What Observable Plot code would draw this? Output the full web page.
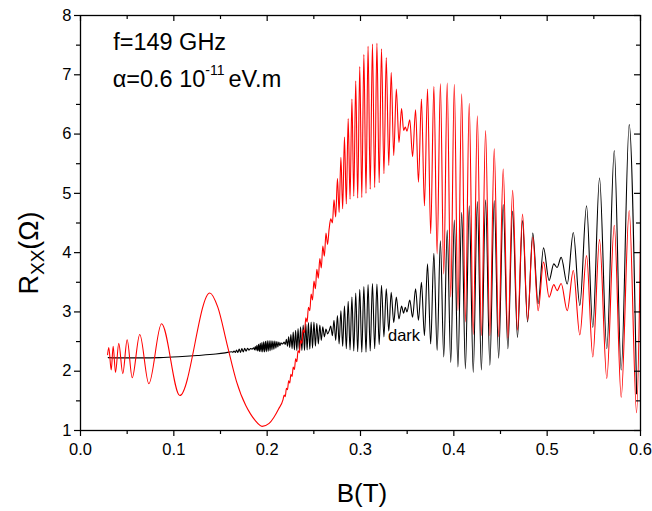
<!DOCTYPE html>
<html><head><meta charset="utf-8">
<script src="https://cdn.jsdelivr.net/npm/d3@7"></script>
<script src="https://cdn.jsdelivr.net/npm/@observablehq/plot@0.6"></script>
<style>body{margin:0;background:#fff}svg{display:block}</style>
</head><body><div id="chart"></div>
<script>
// ---- tick values ----
const xMajor = [0, 0.1, 0.2, 0.3, 0.4, 0.5, 0.6];
const xMinor = [0.05, 0.15, 0.25, 0.35, 0.45, 0.55];
const yMajor = [1, 2, 3, 4, 5, 6, 7, 8];
const yMinor = [1.5, 2.5, 3.5, 4.5, 5.5, 6.5, 7.5];

// ---- dark (black) curve, low field part: B (T), Rxx (Ohm) ----
const darkLowB = [0.0297,0.045,0.065,0.085,0.105,0.125,0.145,0.155,
 0.1619,0.1632,0.1645,0.1659,0.1672,0.1686,0.1700,0.1715,0.1729,0.1744,0.1759,0.1774,0.1790,0.1806,0.1822,0.1838,
 0.1856,0.1864,0.1873,0.1881,0.1890,0.1899,0.1908,0.1917,0.1926,0.1935,0.1944,0.1953,0.1963,0.1972,0.1982,0.1991,
 0.2001,0.2011,0.2021,0.2031,0.2041,0.2051,0.2061,0.2072,0.2082,0.2093,0.2104,0.2115,0.2125,0.2137,0.2148,0.2159,0.2170];
const darkLowR = [2.23,2.225,2.225,2.23,2.245,2.265,2.29,2.31,
 2.328,2.319,2.342,2.317,2.358,2.316,2.372,2.318,2.381,2.326,2.386,2.338,2.386,2.355,2.384,2.373,
 2.395,2.36,2.416,2.35,2.436,2.341,2.454,2.333,2.47,2.328,2.484,2.326,2.496,2.326,2.505,2.329,
 2.511,2.336,2.514,2.345,2.515,2.36,2.51,2.37,2.51,2.39,2.50,2.41,2.49,2.43,2.48,2.46,2.468];

// ---- illuminated (red) curve, low field part ----
const redLowB = [0.0290,0.0303,0.0329,0.0350,0.0375,0.0410,0.0453,0.0500,0.0554,0.0635,0.0732,0.0868,0.1064,
 0.1385,0.1471,0.1571,0.1671,0.1771,0.1821,0.1871,0.1946,0.2021,0.2071,0.2121,0.2170];
const redLowR = [2.28,2.40,2.02,2.42,1.98,2.47,1.96,2.53,1.89,2.62,1.79,2.80,1.59,
 3.32,3.08,2.45,1.83,1.42,1.28,1.17,1.07,1.12,1.22,1.36,1.52];

// ---- oscillating part: extrema positions shared by both curves ----
const oscB = [0.2182,0.2194,0.2206,0.2218,0.2230,0.2242,0.2254,0.2267,0.2279,0.2292,
 0.2305,0.2318,0.2331,0.2345,0.2358,0.2372,0.2386,0.2400,0.2414,0.2428,
 0.2442,0.2457,0.2471,0.2486,0.2501,0.2517,0.2532,0.2548,0.2564,0.2580,
 0.2596,0.2613,0.2630,0.2647,0.2664,0.2681,0.2699,0.2716,0.2734,0.2753,
 0.2771,0.2790,0.2809,0.2828,0.2848,0.2868,0.2888,0.2908,0.2928,0.2949,
 0.2970,0.2992,0.3014,0.3036,0.3059,0.3081,0.3104,0.3128,0.3152,0.3176,
 0.3200,0.3225,0.3251,0.3276,0.3303,0.3329,0.3356,0.3384,0.3412,0.3440,
 0.3462,0.3480,0.3498,0.3528,0.3558,0.3590,0.3621,0.3653,0.3685,0.3718,
 0.3752,0.3786,0.3821,0.3856,0.3892,0.3929,0.3967,0.4005,0.4044,0.4084,
 0.4124,0.4165,0.4208,0.4252,0.4295,0.4340,0.4386,0.4433,0.4480,0.4529,
 0.4579,0.4630,0.4682,0.4736,0.4790,0.4846,0.4903,0.4961,0.5021,0.5071,
 0.5107,0.5150,0.5215,0.5280,0.5350,0.5422,0.5489,0.5561,0.5639,0.5719,
 0.5793,0.5879,0.5958];
const darkOscR = [2.49,2.45,2.54,2.42,2.58,2.40,2.62,2.38,2.66,2.36,
 2.69,2.35,2.72,2.35,2.75,2.35,2.78,2.35,2.80,2.36,
 2.82,2.37,2.83,2.39,2.83,2.42,2.81,2.46,2.78,2.52,
 2.75,2.58,2.71,2.63,2.68,2.76,2.60,2.86,2.52,2.94,
 2.46,3.02,2.42,3.10,2.38,3.18,2.36,3.25,2.34,3.32,
 2.33,3.38,2.32,3.43,2.32,3.46,2.34,3.48,2.38,3.47,
 2.45,3.45,2.58,3.39,2.68,3.33,2.82,3.25,2.88,3.10,
 2.98,3.08,3.00,3.20,2.91,3.39,2.86,3.50,2.60,3.81,
 2.46,3.99,2.35,4.20,2.24,4.38,2.15,4.55,2.07,4.68,
 2.04,4.79,1.98,4.86,2.02,4.89,2.10,4.88,2.22,4.81,
 2.38,4.70,2.57,4.54,2.83,4.33,3.14,4.08,3.53,3.81,
 3.75,3.92,3.47,4.34,3.11,4.79,2.74,5.26,2.38,5.72,
 2.02,6.16,1.62];
const redOscR = [1.60,1.57,1.71,1.69,1.84,1.80,1.95,1.91,2.07,2.03,
 2.21,2.16,2.35,2.31,2.52,2.47,2.70,2.65,2.90,2.83,
 3.08,3.02,3.30,3.20,3.52,3.39,3.72,3.57,3.90,3.74,
 4.11,3.94,4.33,4.14,4.40,4.57,4.50,4.89,4.60,5.25,
 4.68,5.61,4.74,5.95,4.82,6.26,4.90,6.59,4.95,6.90,
 4.92,7.14,4.93,7.34,5.00,7.48,5.07,7.52,5.10,7.53,
 5.18,7.44,5.33,7.29,5.47,7.04,5.64,6.76,5.86,6.43,
 6.06,6.12,6.05,6.24,5.62,6.41,5.19,6.59,4.79,6.76,
 4.32,6.80,3.98,6.85,3.64,6.86,3.25,6.84,3.02,6.68,
 2.83,6.52,2.62,6.31,2.60,6.06,2.60,5.75,2.58,5.41,
 2.56,5.05,2.69,4.65,2.86,4.26,3.02,3.84,3.25,3.46,
 3.36,3.48,3.02,3.70,2.61,3.95,2.24,4.22,1.88,4.46,
 1.56,4.71,1.30];
const redTailB = [0.6];
const redTailR = [4.2];

// ---- texts ----
const line1 = "f=149 GHz";
const line2a = "α=0.6 10", line2sup = "-11", line2b = "eV.m";
const darkText = "dark";
const xTitle = "B(T)";

// build tables
const darkRs = [...darkLowR, ...darkOscR];
const dark = [...darkLowB, ...oscB].map((B, i) => ({B, R: darkRs[i]}));
const redBs = [...redLowB, ...oscB, ...redTailB], redRs = [...redLowR, ...redOscR, ...redTailR];
const red = redBs.map((B, i) => ({B, R: redRs[i]}));

const FONT = "'Liberation Sans', Arial, Helvetica, sans-serif";
const W = 652, H = 511, mL = 80, mR = 12, mT = 15, mB = 81;
const fw = W - mL - mR, fh = H - mT - mB;

const chart = Plot.plot({
  width: W, height: H,
  marginLeft: mL, marginRight: mR, marginTop: mT, marginBottom: mB,
  style: {fontFamily: FONT, background: "white", color: "black"},
  x: {domain: [0, 0.6], label: null},
  y: {domain: [1, 8], label: null},
  marks: [
    Plot.line(dark, {x: "B", y: "R", stroke: "black", strokeWidth: 1.1, curve: "monotone-x", clip: true}),
    Plot.line(red, {x: "B", y: "R", stroke: "#ff0000", strokeWidth: 1.1, curve: "monotone-x", clip: true}),
    Plot.frame({stroke: "black", strokeWidth: 1.3}),
    Plot.axisX(xMajor, {anchor: "bottom", tickSize: 6, tickPadding: 7, strokeWidth: 1.2, tickFormat: d3.format(".1f"), fontSize: 16.5, label: null}),
    Plot.axisX(xMinor, {anchor: "bottom", tickSize: 4, strokeWidth: 1.2, tickFormat: () => "", label: null}),
    Plot.axisY(yMajor, {anchor: "left", tickSize: 6, tickPadding: 3, strokeWidth: 1.2, tickFormat: d3.format("d"), fontSize: 16.5, label: null}),
    Plot.axisY(yMinor, {anchor: "left", tickSize: 4, strokeWidth: 1.2, tickFormat: () => "", label: null}),
    Plot.ruleX(xMajor, {stroke: "black", strokeWidth: 1.2, insetBottom: fh - 6}),
    Plot.ruleX(xMinor, {stroke: "black", strokeWidth: 1.2, insetBottom: fh - 4}),
    Plot.ruleY(yMajor, {stroke: "black", strokeWidth: 1.2, insetLeft: fw - 6}),
    Plot.ruleY(yMinor, {stroke: "black", strokeWidth: 1.2, insetLeft: fw - 4})
  ]
});
document.getElementById("chart").appendChild(chart);

const sx = chart.scale("x"), sy = chart.scale("y");
const svg = d3.select(chart);

// annotation positions in data units
const note1 = {B: 0.0355, R: 7.41}, note2 = {B: 0.0350, R: 6.785}, note3 = {B: 0.330, R: 2.50};

svg.append("text").attr("x", sx.apply(note1.B)).attr("y", sy.apply(note1.R))
  .attr("text-anchor", "start").attr("font-size", 23.5).attr("fill", "black").text(line1);
const t2 = svg.append("text").attr("x", sx.apply(note2.B)).attr("y", sy.apply(note2.R))
  .attr("text-anchor", "start").attr("font-size", 23.5).attr("fill", "black");
t2.append("tspan").text(line2a);
t2.append("tspan").attr("font-size", 14).attr("dy", -12).text(line2sup);
t2.append("tspan").attr("dy", 12).attr("dx", 4).text(line2b);

svg.append("text").attr("x", sx.apply(note3.B)).attr("y", sy.apply(note3.R))
  .attr("text-anchor", "start").attr("font-size", 16.5).attr("fill", "black").text(darkText);

// axis titles
svg.append("text").attr("x", (mL + W - mR) / 2 + 2).attr("y", 502)
  .attr("text-anchor", "middle").attr("font-size", 26).attr("fill", "black").text(xTitle);
const yl = svg.append("text").attr("transform", "translate(38,253) rotate(-90)")
  .attr("text-anchor", "middle").attr("font-size", 27).attr("fill", "black");
yl.append("tspan").text("R");
yl.append("tspan").attr("font-size", 19).attr("dy", 6).text("XX");
yl.append("tspan").attr("dy", -6).text("(Ω)");
</script>
</body></html>
